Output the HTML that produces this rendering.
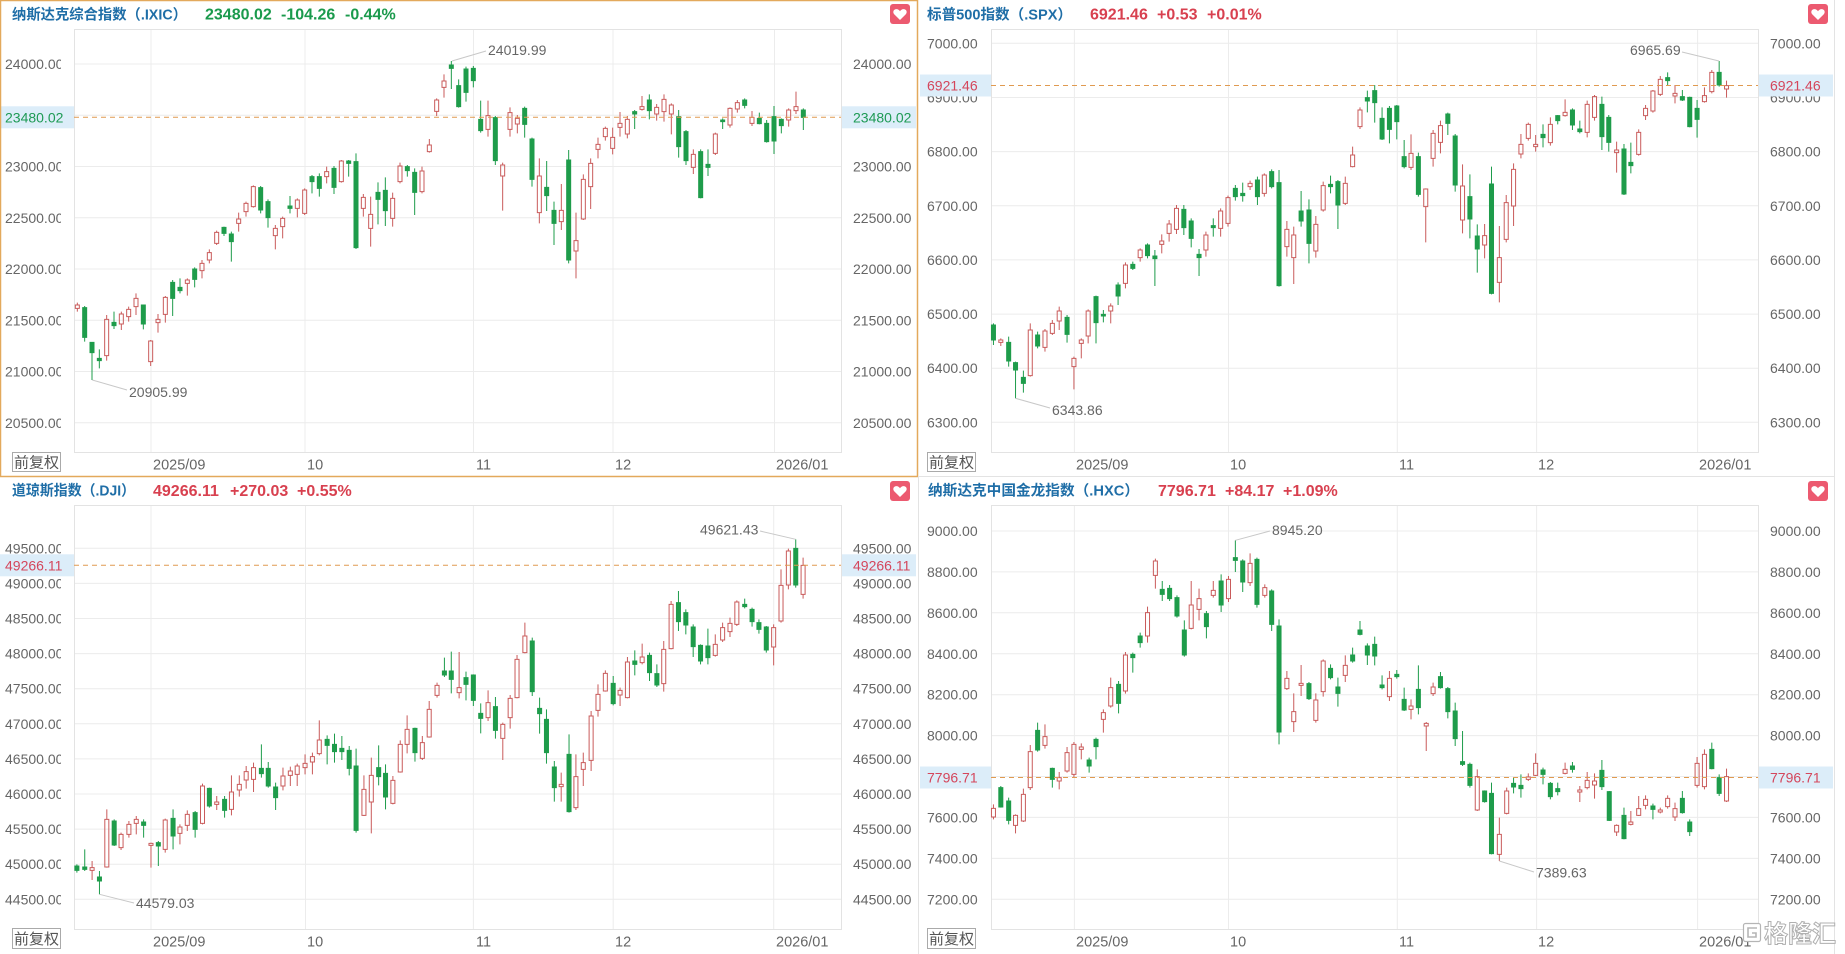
<!DOCTYPE html>
<html><head><meta charset="utf-8"><style>
html,body{margin:0;padding:0;background:#fff;width:1845px;height:954px;overflow:hidden}
svg{display:block}
.gl{stroke:#ececec;stroke-width:1;fill:none}
.bd{stroke:#e3e3e3;stroke-width:1;fill:none}
.ax{fill:#666;font-size:14px}
.xl{fill:#666;font-size:14.5px}
.ttl{fill:#1f6ea7;font-size:14.5px;font-weight:bold}
.up{fill:#d8404f;font-size:16px;font-weight:bold}
.dn{fill:#1a9a4c;font-size:16px;font-weight:bold}
.cr{fill:none;stroke:#c95b5b;stroke-width:1}
.cg{fill:#1e9c4b;stroke:#1e9c4b;stroke-width:1}
.dash{stroke:#e09a50;stroke-width:1;stroke-dasharray:5 4}
.hb{fill:#dcedf9}
.ann{fill:#666;font-size:14px}
.al{stroke:#c8c8c8;stroke-width:1}
.fq{fill:#fff;stroke:#aaa;stroke-width:1}
.fqt{fill:#555;font-size:15px}
.hv{fill:#ec5a70}
</style></head><body>
<svg width="1845" height="954" xmlns="http://www.w3.org/2000/svg" font-family="'Liberation Sans','Noto Sans CJK SC',sans-serif">
<defs>
<clipPath id="clL"><rect x="0" y="0" width="61" height="954"/></clipPath>
<symbol id="heart" viewBox="0 0 20 20"><rect width="20" height="20" rx="3" class="hv"/><path d="M10 16 L4.3 10.4 C2.6 8.6 3.2 5.9 5.5 5.3 C7.4 4.8 9 5.8 10 7.3 C11 5.8 12.6 4.8 14.5 5.3 C16.8 5.9 17.4 8.6 15.7 10.4 Z" fill="#fff"/></symbol>
</defs>

<!-- ================= PANEL TL : IXIC ================= -->
<g>
<line class="gl" x1="74" y1="64" x2="841" y2="64"/>
<line class="gl" x1="74" y1="115.3" x2="841" y2="115.3"/>
<line class="gl" x1="74" y1="166.5" x2="841" y2="166.5"/>
<line class="gl" x1="74" y1="217.8" x2="841" y2="217.8"/>
<line class="gl" x1="74" y1="269" x2="841" y2="269"/>
<line class="gl" x1="74" y1="320.3" x2="841" y2="320.3"/>
<line class="gl" x1="74" y1="371.5" x2="841" y2="371.5"/>
<line class="gl" x1="74" y1="422.8" x2="841" y2="422.8"/>
<line class="gl" x1="151" y1="29" x2="151" y2="452"/>
<line class="gl" x1="305" y1="29" x2="305" y2="452"/>
<line class="gl" x1="473.5" y1="29" x2="473.5" y2="452"/>
<line class="gl" x1="613" y1="29" x2="613" y2="452"/>
<line class="gl" x1="774.5" y1="29" x2="774.5" y2="452"/>
<rect class="bd" x="74.5" y="29.5" width="767" height="423"/>
<text class="ttl" x="12" y="19.5" textLength="175" lengthAdjust="spacingAndGlyphs">纳斯达克综合指数（.IXIC）</text>
<text class="dn" x="205" y="19.5">23480.02</text>
<text class="dn" x="281" y="19.5">-104.26</text>
<text class="dn" x="345" y="19.5">-0.44%</text>
<use href="#heart" x="890" y="4" width="20" height="20"/>
<g class="ax" clip-path="url(#clL)">
<text x="5" y="69">24000.00</text><text x="5" y="171.5">23000.00</text><text x="5" y="222.8">22500.00</text><text x="5" y="274">22000.00</text><text x="5" y="325.3">21500.00</text><text x="5" y="376.5">21000.00</text><text x="5" y="427.8">20500.00</text>
</g>
<g class="ax">
<text x="853" y="69">24000.00</text><text x="853" y="171.5">23000.00</text><text x="853" y="222.8">22500.00</text><text x="853" y="274">22000.00</text><text x="853" y="325.3">21500.00</text><text x="853" y="376.5">21000.00</text><text x="853" y="427.8">20500.00</text>
</g>
<g class="xl"><text x="153" y="469.5">2025/09</text><text x="307" y="469.5">10</text><text x="476" y="469.5">11</text><text x="615" y="469.5">12</text><text x="776" y="469.5">2026/01</text></g>
<rect class="fq" x="12.5" y="452.5" width="48" height="19"/><text class="fqt" x="14" y="467.5">前复权</text>
<g transform="translate(70 30) scale(0.333333)">
<path class="cr" vector-effect="non-scaling-stroke" d="M22 818V825M22 835V845M22 825m-6 0h12V835h-12zM110 855V868M110 977V992M110 868m-6 0h12V977h-12zM154 845V852M154 882V900M154 852m-6 0h12V882h-12zM176 830V838M176 860V875M176 838m-6 0h12V860h-12zM198 790V805M198 830V855M198 805m-6 0h12V830h-12zM242 930V933M242 995V1008M242 933m-6 0h12V995h-12zM264 852V868M264 878V908M264 868m-6 0h12V878h-12zM286 798V802M286 853V878M286 802m-6 0h12V853h-12zM352 745V750M352 760V797M352 750m-6 0h12V760h-12zM396 690V700M396 722V745M396 700m-6 0h12V722h-12zM418 658V668M418 690V700M418 668m-6 0h12V690h-12zM440 602V607M440 640V645M440 607m-6 0h12V640h-12zM506 548V567M506 580V605M506 567m-6 0h12V580h-12zM528 515V520M528 545V560M528 520m-6 0h12V545h-12zM550 466V470M550 530V533M550 470m-6 0h12V530h-12zM616 585V595M616 617V658M616 595m-6 0h12V617h-12zM638 560V565M638 590V625M638 565m-6 0h12V590h-12zM682 505V510M682 535V562M682 510m-6 0h12V535h-12zM704 475V480M704 550V555M704 480m-6 0h12V550h-12zM770 410V425M770 440V460M770 425m-6 0h12V440h-12zM814 390V393M814 455V458M814 393m-6 0h12V455h-12zM880 492V502M880 535V560M880 502m-6 0h12V535h-12zM902 500V553M902 595V650M902 553m-6 0h12V595h-12zM968 488V505M968 565V590M968 505m-6 0h12V565h-12zM990 398V408M990 455V460M990 408m-6 0h12V455h-12zM1056 410V423M1056 485V490M1056 423m-6 0h12V485h-12zM1078 327V345M1078 365V368M1078 345m-6 0h12V365h-12zM1100 205V210M1100 244V258M1100 210m-6 0h12V244h-12zM1122 133V153M1122 172V203M1122 153m-6 0h12V172h-12zM1254 212V257M1254 298V320M1254 257m-6 0h12V298h-12zM1298 398V405M1298 438V542M1298 405m-6 0h12V438h-12zM1320 232V248M1320 298V320M1320 248m-6 0h12V298h-12zM1342 255V265M1342 282V310M1342 265m-6 0h12V282h-12zM1408 385V438M1408 548V580M1408 438m-6 0h12V548h-12zM1474 462V541M1474 575V600M1474 541m-6 0h12V575h-12zM1518 548V632M1518 663V745M1518 632m-6 0h12V663h-12zM1540 433V448M1540 567V570M1540 448m-6 0h12V567h-12zM1562 385V400M1562 470V537M1562 400m-6 0h12V470h-12zM1584 323V343M1584 358V385M1584 343m-6 0h12V358h-12zM1606 290V295M1606 320V332M1606 295m-6 0h12V320h-12zM1628 293V322M1628 355V373M1628 322m-6 0h12V355h-12zM1650 246V280M1650 292V320M1650 280m-6 0h12V292h-12zM1672 258V268M1672 312V325M1672 268m-6 0h12V312h-12zM1716 198V230M1716 238V242M1716 230m-6 0h12V238h-12zM1760 222V232M1760 252V272M1760 232m-6 0h12V252h-12zM1782 193V208M1782 245V275M1782 208m-6 0h12V245h-12zM1804 220V225M1804 252V313M1804 225m-6 0h12V252h-12zM1870 358V373M1870 412V432M1870 373m-6 0h12V412h-12zM1936 308V312M1936 370V375M1936 312m-6 0h12V370h-12zM1980 232V235M1980 285V293M1980 235m-6 0h12V285h-12zM2002 210V218M2002 237V248M2002 218m-6 0h12V237h-12zM2046 243V262M2046 280V288M2046 262m-6 0h12V280h-12zM2156 235V240M2156 270V290M2156 240m-6 0h12V270h-12zM2178 185V230M2178 242V252M2178 230m-6 0h12V242h-12z"/>
<path class="cg" vector-effect="non-scaling-stroke" d="M44 828V935M44 833m-6 0h12V922h-12zM66 937V1050M66 937m-6 0h12V968h-12zM88 958V1015M88 985m-6 0h12V992h-12zM132 845V897M132 877m-6 0h12V887h-12zM220 825V898M220 825m-6 0h12V882h-12zM308 750V858M308 757m-6 0h12V805h-12zM330 745V790M330 772m-6 0h12V782h-12zM374 712V772M374 717m-6 0h12V748h-12zM462 590V618M462 592m-6 0h12V610h-12zM484 605V695M484 612m-6 0h12V635h-12zM572 468V550M572 473m-6 0h12V540h-12zM594 508V593M594 515m-6 0h12V563h-12zM660 498V550M660 528m-6 0h12V535h-12zM726 435V490M726 440m-6 0h12V455h-12zM748 430V500M748 440m-6 0h12V475h-12zM792 408V492M792 415m-6 0h12V472h-12zM836 390V440M836 393m-6 0h12V400h-12zM858 370V657M858 395m-6 0h12V653h-12zM924 457V583M924 487m-6 0h12V508h-12zM946 442V588M946 481m-6 0h12V542h-12zM1012 405V440M1012 410m-6 0h12V422h-12zM1034 415V555M1034 427m-6 0h12V487h-12zM1144 93V177M1144 105m-6 0h12V115h-12zM1166 148V233M1166 167m-6 0h12V230h-12zM1188 110V215M1188 117m-6 0h12V187h-12zM1210 108V172M1210 115m-6 0h12V152h-12zM1232 212V308M1232 268m-6 0h12V302h-12zM1276 258V405M1276 263m-6 0h12V392h-12zM1364 230V323M1364 235m-6 0h12V283h-12zM1386 323V470M1386 327m-6 0h12V448h-12zM1430 393V543M1430 472m-6 0h12V497h-12zM1452 515V645M1452 541m-6 0h12V580h-12zM1496 360V700M1496 390m-6 0h12V690h-12zM1694 240V297M1694 245m-6 0h12V252h-12zM1738 193V268M1738 210m-6 0h12V242h-12zM1826 240V383M1826 260m-6 0h12V350h-12zM1848 300V405M1848 305m-6 0h12V392h-12zM1892 358V505M1892 365m-6 0h12V503h-12zM1914 358V438M1914 403m-6 0h12V412h-12zM1958 265V297M1958 270m-6 0h12V275h-12zM2024 205V235M2024 210m-6 0h12V226h-12zM2068 248V283M2068 265m-6 0h12V281h-12zM2090 270V338M2090 280m-6 0h12V335h-12zM2112 228V372M2112 260m-6 0h12V333h-12zM2134 265V310M2134 268m-6 0h12V287h-12zM2200 235V300M2200 240m-6 0h12V262h-12z"/>
</g>
<line class="dash" x1="74" y1="117.3" x2="841" y2="117.3"/>
<rect class="hb" x="0" y="106.3" width="74" height="22"/><text x="5" y="122.3" font-size="14" fill="#1e9a55">23480.02</text>
<rect class="hb" x="842" y="106.3" width="74" height="22"/><text x="853" y="122.3" font-size="14" fill="#1e9a55">23480.02</text>
<line class="al" x1="452" y1="61" x2="486" y2="51"/><text class="ann" x="488" y="55">24019.99</text>
<line class="al" x1="92.3" y1="380" x2="127" y2="390"/><text class="ann" x="129" y="397">20905.99</text>
<rect x="0.5" y="0.5" width="917" height="476" fill="none" stroke="#e3a95c" stroke-width="1.5"/>
</g>

<!-- ================= PANEL TR : SPX ================= -->
<g>
<line class="gl" x1="991" y1="43.3" x2="1758" y2="43.3"/>
<line class="gl" x1="991" y1="97.5" x2="1758" y2="97.5"/>
<line class="gl" x1="991" y1="151.6" x2="1758" y2="151.6"/>
<line class="gl" x1="991" y1="205.8" x2="1758" y2="205.8"/>
<line class="gl" x1="991" y1="259.9" x2="1758" y2="259.9"/>
<line class="gl" x1="991" y1="314.1" x2="1758" y2="314.1"/>
<line class="gl" x1="991" y1="368.2" x2="1758" y2="368.2"/>
<line class="gl" x1="991" y1="422.3" x2="1758" y2="422.3"/>
<line class="gl" x1="1074.4" y1="29" x2="1074.4" y2="452"/>
<line class="gl" x1="1228.5" y1="29" x2="1228.5" y2="452"/>
<line class="gl" x1="1397.3" y1="29" x2="1397.3" y2="452"/>
<line class="gl" x1="1536.6" y1="29" x2="1536.6" y2="452"/>
<line class="gl" x1="1697.6" y1="29" x2="1697.6" y2="452"/>
<rect class="bd" x="991.5" y="29.5" width="767" height="423"/>
<text class="ttl" x="927" y="19.5" textLength="145" lengthAdjust="spacingAndGlyphs">标普500指数（.SPX）</text>
<text class="up" x="1090" y="19.5">6921.46</text>
<text class="up" x="1157" y="19.5">+0.53</text>
<text class="up" x="1207" y="19.5">+0.01%</text>
<use href="#heart" x="1808" y="4" width="20" height="20"/>
<g class="ax">
<text x="927" y="48.3">7000.00</text><text x="927" y="102.5">6900.00</text><text x="927" y="156.6">6800.00</text><text x="927" y="210.8">6700.00</text><text x="927" y="264.9">6600.00</text><text x="927" y="319.1">6500.00</text><text x="927" y="373.2">6400.00</text><text x="927" y="427.3">6300.00</text>
<text x="1770" y="48.3">7000.00</text><text x="1770" y="102.5">6900.00</text><text x="1770" y="156.6">6800.00</text><text x="1770" y="210.8">6700.00</text><text x="1770" y="264.9">6600.00</text><text x="1770" y="319.1">6500.00</text><text x="1770" y="373.2">6400.00</text><text x="1770" y="427.3">6300.00</text>
</g>
<g class="xl"><text x="1076" y="469.5">2025/09</text><text x="1230" y="469.5">10</text><text x="1399" y="469.5">11</text><text x="1538" y="469.5">12</text><text x="1699" y="469.5">2026/01</text></g>
<rect class="fq" x="927.5" y="452.5" width="48" height="19"/><text class="fqt" x="929" y="467.5">前复权</text>
<g transform="translate(991 30) scale(0.49068 0.333333)">
<path class="cr" vector-effect="non-scaling-stroke" d="M20 925V930M20 937V948M20 930m-4.1 0h8.2V937h-8.2zM80 880V900M80 1037V1040M80 900m-4.1 0h8.2V1037h-8.2zM110 897V903M110 952V965M110 903m-4.1 0h8.2V952h-8.2zM125 870V880M125 910V915M125 880m-4.1 0h8.2V910h-8.2zM139 830V843M139 873V900M139 843m-4.1 0h8.2V873h-8.2zM169 980V985M169 1010V1078M169 985m-4.1 0h8.2V1010h-8.2zM184 925V930M184 940V985M184 930m-4.1 0h8.2V940h-8.2zM198 838V843M198 918V940M198 843m-4.1 0h8.2V918h-8.2zM244 820V828M244 843V880M244 828m-4.1 0h8.2V843h-8.2zM274 697V705M274 760V775M274 705m-4.1 0h8.2V760h-8.2zM304 655V660M304 683V695M304 660m-4.1 0h8.2V683h-8.2zM348 613V633M348 643V670M348 633m-4.1 0h8.2V643h-8.2zM363 570V582M363 610V635M363 582m-4.1 0h8.2V610h-8.2zM378 525V535M378 598V612M378 535m-4.1 0h8.2V598h-8.2zM438 605V615M438 660V680M438 615m-4.1 0h8.2V660h-8.2zM468 535V543M468 595V620M468 543m-4.1 0h8.2V595h-8.2zM483 497V503M483 580V590M483 503m-4.1 0h8.2V580h-8.2zM528 452V460M528 470V480M528 460m-4.1 0h8.2V470h-8.2zM557 430V435M557 490V500M557 435m-4.1 0h8.2V490h-8.2zM603 573V598M603 650V680M603 598m-4.1 0h8.2V650h-8.2zM617 590V615M617 683V762M617 615m-4.1 0h8.2V683h-8.2zM662 558V583M662 663V683M662 583m-4.1 0h8.2V663h-8.2zM677 455V467M677 540V545M677 467m-4.1 0h8.2V540h-8.2zM722 440V460M722 520V525M722 460m-4.1 0h8.2V520h-8.2zM737 350V375M737 410V412M737 375m-4.1 0h8.2V410h-8.2zM752 232V240M752 290V297M752 240m-4.1 0h8.2V290h-8.2zM856 313V370M856 412V420M856 370m-4.1 0h8.2V412h-8.2zM886 475V477M886 530V637M886 477m-4.1 0h8.2V530h-8.2zM901 300V310M901 385V410M901 310m-4.1 0h8.2V385h-8.2zM916 272V287M916 337V370M916 287m-4.1 0h8.2V337h-8.2zM961 403V468M961 570V610M961 468m-4.1 0h8.2V570h-8.2zM1006 582V617M1006 645V685M1006 617m-4.1 0h8.2V645h-8.2zM1036 588V683M1036 757V817M1036 683m-4.1 0h8.2V757h-8.2zM1050 495V518M1050 628V637M1050 518m-4.1 0h8.2V628h-8.2zM1065 400V418M1065 528V588M1065 418m-4.1 0h8.2V528h-8.2zM1080 312V343M1080 372V385M1080 343m-4.1 0h8.2V372h-8.2zM1095 278V283M1095 325V332M1095 283m-4.1 0h8.2V325h-8.2zM1110 315V343M1110 350V365M1110 343m-4.1 0h8.2V350h-8.2zM1140 262V283M1140 338V347M1140 283m-4.1 0h8.2V338h-8.2zM1170 208V247M1170 257V260M1170 247m-4.1 0h8.2V257h-8.2zM1215 212V223M1215 307V322M1215 223m-4.1 0h8.2V307h-8.2zM1230 195V200M1230 262V272M1230 200m-4.1 0h8.2V262h-8.2zM1275 335V360M1275 368V428M1275 360m-4.1 0h8.2V368h-8.2zM1320 298V307M1320 373V377M1320 307m-4.1 0h8.2V373h-8.2zM1334 225V235M1334 257V270M1334 235m-4.1 0h8.2V257h-8.2zM1349 180V183M1349 243V248M1349 183m-4.1 0h8.2V243h-8.2zM1364 138V148M1364 193V198M1364 148m-4.1 0h8.2V193h-8.2zM1394 165V190M1394 198V220M1394 190m-4.1 0h8.2V198h-8.2zM1454 172V197M1454 215V218M1454 197m-4.1 0h8.2V215h-8.2zM1469 120V127M1469 185V190M1469 127m-4.1 0h8.2V185h-8.2zM1499 152V167M1499 177V203M1499 167m-4.1 0h8.2V177h-8.2z"/>
<path class="cg" vector-effect="non-scaling-stroke" d="M5 880V945M5 885m-4.1 0h8.2V930h-8.2zM36 920V1010M36 937m-4.1 0h8.2V993h-8.2zM50 995V1105M50 998m-4.1 0h8.2V1020h-8.2zM66 1022V1088M66 1042m-4.1 0h8.2V1060h-8.2zM95 905V955M95 915m-4.1 0h8.2V948h-8.2zM155 855V938M155 862m-4.1 0h8.2V913h-8.2zM214 797V940M214 800m-4.1 0h8.2V878h-8.2zM229 840V877M229 853m-4.1 0h8.2V858h-8.2zM259 757V825M259 765m-4.1 0h8.2V798h-8.2zM289 695V720M289 703m-4.1 0h8.2V715h-8.2zM319 640V685M319 645m-4.1 0h8.2V677h-8.2zM334 660V768M334 678m-4.1 0h8.2V686h-8.2zM393 525V615M393 538m-4.1 0h8.2V593h-8.2zM408 565V652M408 573m-4.1 0h8.2V625h-8.2zM424 657V738M424 673m-4.1 0h8.2V683h-8.2zM453 565V620M453 587m-4.1 0h8.2V593h-8.2zM498 465V512M498 475m-4.1 0h8.2V500h-8.2zM513 458V515M513 490m-4.1 0h8.2V497h-8.2zM543 440V525M543 450m-4.1 0h8.2V500h-8.2zM572 418V475M572 425m-4.1 0h8.2V470h-8.2zM587 420V770M587 458m-4.1 0h8.2V767h-8.2zM632 483V590M632 543m-4.1 0h8.2V573h-8.2zM648 508V700M648 540m-4.1 0h8.2V640h-8.2zM692 437V490M692 463m-4.1 0h8.2V470h-8.2zM707 450V597M707 455m-4.1 0h8.2V525h-8.2zM767 182V247M767 203m-4.1 0h8.2V213h-8.2zM782 165V278M782 182m-4.1 0h8.2V218h-8.2zM797 232V330M797 265m-4.1 0h8.2V327h-8.2zM812 228V340M812 235m-4.1 0h8.2V298h-8.2zM827 225V328M827 228m-4.1 0h8.2V275h-8.2zM842 330V415M842 380m-4.1 0h8.2V410h-8.2zM871 368V500M871 380m-4.1 0h8.2V493h-8.2zM931 248V315M931 252m-4.1 0h8.2V280h-8.2zM946 312V485M946 318m-4.1 0h8.2V465h-8.2zM976 433V625M976 500m-4.1 0h8.2V567h-8.2zM991 583V728M991 618m-4.1 0h8.2V657h-8.2zM1020 410V793M1020 462m-4.1 0h8.2V790h-8.2zM1125 283V352M1125 313m-4.1 0h8.2V323h-8.2zM1155 255V283M1155 257m-4.1 0h8.2V272h-8.2zM1185 235V300M1185 240m-4.1 0h8.2V285h-8.2zM1200 272V310M1200 297m-4.1 0h8.2V305h-8.2zM1245 200V360M1245 223m-4.1 0h8.2V320h-8.2zM1259 255V365M1259 262m-4.1 0h8.2V337h-8.2zM1290 342V495M1290 357m-4.1 0h8.2V492h-8.2zM1304 338V430M1304 397m-4.1 0h8.2V407h-8.2zM1379 127V165M1379 143m-4.1 0h8.2V152h-8.2zM1409 180V213M1409 200m-4.1 0h8.2V210h-8.2zM1424 200V292M1424 202m-4.1 0h8.2V290h-8.2zM1439 210V323M1439 235m-4.1 0h8.2V268h-8.2zM1484 93V170M1484 127m-4.1 0h8.2V165h-8.2z"/>
</g>
<line class="dash" x1="991" y1="85.5" x2="1758" y2="85.5"/>
<rect class="hb" x="920" y="74.5" width="71" height="22"/><text x="927" y="90.5" font-size="14" fill="#d4465c">6921.46</text>
<rect class="hb" x="1759" y="74.5" width="74" height="22"/><text x="1770" y="90.5" font-size="14" fill="#d4465c">6921.46</text>
<line class="al" x1="1682" y1="52" x2="1719" y2="61"/><text class="ann" x="1630" y="55">6965.69</text>
<line class="al" x1="1015.5" y1="398.3" x2="1050" y2="408"/><text class="ann" x="1052" y="415">6343.86</text>
<line x1="918" y1="476.5" x2="1834" y2="476.5" stroke="#e3e3e3"/>
<line x1="1834.5" y1="0" x2="1834.5" y2="954" stroke="#e3e3e3"/>
</g>

<!-- ================= PANEL BL : DJI ================= -->
<g>
<line class="gl" x1="74" y1="548.3" x2="841" y2="548.3"/>
<line class="gl" x1="74" y1="583.4" x2="841" y2="583.4"/>
<line class="gl" x1="74" y1="618.5" x2="841" y2="618.5"/>
<line class="gl" x1="74" y1="653.6" x2="841" y2="653.6"/>
<line class="gl" x1="74" y1="688.7" x2="841" y2="688.7"/>
<line class="gl" x1="74" y1="723.8" x2="841" y2="723.8"/>
<line class="gl" x1="74" y1="758.9" x2="841" y2="758.9"/>
<line class="gl" x1="74" y1="794" x2="841" y2="794"/>
<line class="gl" x1="74" y1="829.1" x2="841" y2="829.1"/>
<line class="gl" x1="74" y1="864.2" x2="841" y2="864.2"/>
<line class="gl" x1="74" y1="899.3" x2="841" y2="899.3"/>
<line class="gl" x1="151" y1="505" x2="151" y2="929"/>
<line class="gl" x1="305.5" y1="505" x2="305.5" y2="929"/>
<line class="gl" x1="473.4" y1="505" x2="473.4" y2="929"/>
<line class="gl" x1="613.2" y1="505" x2="613.2" y2="929"/>
<line class="gl" x1="773.7" y1="505" x2="773.7" y2="929"/>
<rect class="bd" x="74.5" y="505.5" width="767" height="424"/>
<text class="ttl" x="12" y="495.5" textLength="123" lengthAdjust="spacingAndGlyphs">道琼斯指数（.DJI）</text>
<text class="up" x="153" y="496">49266.11</text>
<text class="up" x="230" y="496">+270.03</text>
<text class="up" x="297" y="496">+0.55%</text>
<use href="#heart" x="890" y="481" width="20" height="20"/>
<g class="ax" clip-path="url(#clL)">
<text x="5" y="553.3">49500.00</text><text x="5" y="588.4">49000.00</text><text x="5" y="623.5">48500.00</text><text x="5" y="658.6">48000.00</text><text x="5" y="693.7">47500.00</text><text x="5" y="728.8">47000.00</text><text x="5" y="763.9">46500.00</text><text x="5" y="799">46000.00</text><text x="5" y="834.1">45500.00</text><text x="5" y="869.2">45000.00</text><text x="5" y="904.3">44500.00</text>
</g>
<g class="ax">
<text x="853" y="553.3">49500.00</text><text x="853" y="588.4">49000.00</text><text x="853" y="623.5">48500.00</text><text x="853" y="658.6">48000.00</text><text x="853" y="693.7">47500.00</text><text x="853" y="728.8">47000.00</text><text x="853" y="763.9">46500.00</text><text x="853" y="799">46000.00</text><text x="853" y="834.1">45500.00</text><text x="853" y="869.2">45000.00</text><text x="853" y="904.3">44500.00</text>
</g>
<g class="xl"><text x="153" y="946.5">2025/09</text><text x="307" y="946.5">10</text><text x="476" y="946.5">11</text><text x="615" y="946.5">12</text><text x="776" y="946.5">2026/01</text></g>
<rect class="fq" x="12.5" y="928.5" width="48" height="20"/><text class="fqt" x="14" y="944">前复权</text>
<g transform="translate(71 506) scale(0.49068 0.333333)">
<path class="cr" vector-effect="non-scaling-stroke" d="M43 1065V1085M43 1093V1122M43 1085m-4.1 0h8.2V1093h-8.2zM73 910V940M73 1083V1085M73 940m-4.1 0h8.2V1083h-8.2zM102 980V985M102 1025V1032M102 985m-4.1 0h8.2V1025h-8.2zM118 945V955M118 985V995M118 955m-4.1 0h8.2V985h-8.2zM133 930V940M133 952V985M133 940m-4.1 0h8.2V952h-8.2zM163 1010V1012M163 1018V1085M163 1012m-4.1 0h8.2V1018h-8.2zM192 938V942M192 1030V1040M192 942m-4.1 0h8.2V1030h-8.2zM222 955V963M222 982V1015M222 963m-4.1 0h8.2V982h-8.2zM237 913V925M237 958V975M237 925m-4.1 0h8.2V958h-8.2zM268 833V840M268 952V955M268 840m-4.1 0h8.2V952h-8.2zM297 870V888M297 895V912M297 888m-4.1 0h8.2V895h-8.2zM327 808V858M327 910V928M327 858m-4.1 0h8.2V910h-8.2zM343 808V835M343 852V872M343 835m-4.1 0h8.2V852h-8.2zM357 780V797M357 822V848M357 797m-4.1 0h8.2V822h-8.2zM372 770V785M372 820V858M372 785m-4.1 0h8.2V820h-8.2zM432 785V810M432 840V853M432 810m-4.1 0h8.2V840h-8.2zM447 782V795M447 808V840M447 795m-4.1 0h8.2V808h-8.2zM461 773V780M461 805V840M461 780m-4.1 0h8.2V805h-8.2zM477 745V772M477 785V805M477 772m-4.1 0h8.2V785h-8.2zM492 740V752M492 768V805M492 752m-4.1 0h8.2V768h-8.2zM506 643V702M506 743V748M506 702m-4.1 0h8.2V743h-8.2zM597 808V850M597 928V930M597 850m-4.1 0h8.2V928h-8.2zM612 755V808M612 888V982M612 808m-4.1 0h8.2V888h-8.2zM656 810V823M656 892V895M656 823m-4.1 0h8.2V892h-8.2zM671 703V715M671 798V800M671 715m-4.1 0h8.2V798h-8.2zM685 628V670M685 715V742M685 670m-4.1 0h8.2V715h-8.2zM716 690V710M716 757V762M716 710m-4.1 0h8.2V757h-8.2zM730 585V610M730 693V695M730 610m-4.1 0h8.2V693h-8.2zM746 530V538M746 568V575M746 538m-4.1 0h8.2V568h-8.2zM791 438V545M791 560V577M791 545m-4.1 0h8.2V560h-8.2zM850 553V590M850 635V645M850 590m-4.1 0h8.2V635h-8.2zM880 650V655M880 697V762M880 655m-4.1 0h8.2V697h-8.2zM895 567V577M895 635V668M895 577m-4.1 0h8.2V635h-8.2zM909 447V460M909 575V577M909 460m-4.1 0h8.2V575h-8.2zM925 350V390M925 440V442M925 390m-4.1 0h8.2V440h-8.2zM999 800V835M999 842V887M999 835m-4.1 0h8.2V842h-8.2zM1029 745V812M1029 905V912M1029 812m-4.1 0h8.2V905h-8.2zM1044 740V770M1044 790V840M1044 770m-4.1 0h8.2V790h-8.2zM1060 615V630M1060 763V795M1060 630m-4.1 0h8.2V763h-8.2zM1074 535V565M1074 613V632M1074 565m-4.1 0h8.2V613h-8.2zM1089 493V502M1089 555V557M1089 502m-4.1 0h8.2V555h-8.2zM1119 545V553M1119 567V600M1119 553m-4.1 0h8.2V567h-8.2zM1134 453V468M1134 575V577M1134 468m-4.1 0h8.2V575h-8.2zM1164 413V453M1164 470V475M1164 453m-4.1 0h8.2V470h-8.2zM1208 405V430M1208 533V557M1208 430m-4.1 0h8.2V533h-8.2zM1223 285V295M1223 428V430M1223 295m-4.1 0h8.2V428h-8.2zM1313 385V415M1313 448V452M1313 415m-4.1 0h8.2V448h-8.2zM1328 350V365M1328 402V408M1328 365m-4.1 0h8.2V402h-8.2zM1343 335V352M1343 377V393M1343 352m-4.1 0h8.2V377h-8.2zM1357 283V288M1357 355V360M1357 288m-4.1 0h8.2V355h-8.2zM1432 355V365M1432 423V478M1432 365m-4.1 0h8.2V423h-8.2zM1447 190V238M1447 345V350M1447 238m-4.1 0h8.2V345h-8.2zM1462 128V135M1462 237V250M1462 135m-4.1 0h8.2V237h-8.2zM1492 155V178M1492 265V278M1492 178m-4.1 0h8.2V265h-8.2z"/>
<path class="cg" vector-effect="non-scaling-stroke" d="M12 1075V1100M12 1080m-4.1 0h8.2V1093h-8.2zM28 1030V1095M28 1083m-4.1 0h8.2V1090h-8.2zM58 1095V1165M58 1113m-4.1 0h8.2V1125h-8.2zM88 940V1020M88 945m-4.1 0h8.2V1017h-8.2zM148 940V995M148 948m-4.1 0h8.2V958h-8.2zM178 1005V1080M178 1010m-4.1 0h8.2V1020h-8.2zM208 910V1030M208 937m-4.1 0h8.2V990h-8.2zM253 915V995M253 920m-4.1 0h8.2V970h-8.2zM282 845V905M282 847m-4.1 0h8.2V900h-8.2zM313 870V935M313 880m-4.1 0h8.2V913h-8.2zM388 715V815M388 787m-4.1 0h8.2V803h-8.2zM402 768V845M402 787m-4.1 0h8.2V840h-8.2zM417 830V912M417 843m-4.1 0h8.2V875h-8.2zM522 688V775M522 700m-4.1 0h8.2V718h-8.2zM537 683V770M537 715m-4.1 0h8.2V737h-8.2zM552 690V762M552 727m-4.1 0h8.2V737h-8.2zM567 720V808M567 733m-4.1 0h8.2V787h-8.2zM581 728V980M581 780m-4.1 0h8.2V973h-8.2zM627 718V838M627 785m-4.1 0h8.2V812h-8.2zM641 775V910M641 802m-4.1 0h8.2V873h-8.2zM701 665V767M701 667m-4.1 0h8.2V740h-8.2zM761 455V513M761 495m-4.1 0h8.2V507h-8.2zM775 437V562M775 495m-4.1 0h8.2V520h-8.2zM805 497V583M805 515m-4.1 0h8.2V535h-8.2zM820 505V600M820 507m-4.1 0h8.2V583h-8.2zM835 592V682M835 622m-4.1 0h8.2V637h-8.2zM865 573V698M865 602m-4.1 0h8.2V673h-8.2zM940 395V570M940 405m-4.1 0h8.2V557h-8.2zM955 575V683M955 607m-4.1 0h8.2V623h-8.2zM969 610V773M969 640m-4.1 0h8.2V740h-8.2zM985 765V887M985 783m-4.1 0h8.2V845h-8.2zM1015 685V920M1015 745m-4.1 0h8.2V917h-8.2zM1105 510V598M1105 532m-4.1 0h8.2V593h-8.2zM1149 433V508M1149 465m-4.1 0h8.2V475h-8.2zM1179 440V525M1179 448m-4.1 0h8.2V500h-8.2zM1194 475V543M1194 503m-4.1 0h8.2V537h-8.2zM1238 255V375M1238 290m-4.1 0h8.2V347h-8.2zM1253 310V385M1253 320m-4.1 0h8.2V357h-8.2zM1268 355V453M1268 363m-4.1 0h8.2V422h-8.2zM1283 415V475M1283 418m-4.1 0h8.2V465h-8.2zM1298 368V475M1298 420m-4.1 0h8.2V455h-8.2zM1373 278V307M1373 295m-4.1 0h8.2V302h-8.2zM1388 305V362M1388 310m-4.1 0h8.2V347h-8.2zM1402 340V383M1402 350m-4.1 0h8.2V370h-8.2zM1417 360V440M1417 363m-4.1 0h8.2V432h-8.2zM1477 100V245M1477 127m-4.1 0h8.2V237h-8.2z"/>
</g>
<line class="dash" x1="74" y1="565.3" x2="841" y2="565.3"/>
<rect class="hb" x="0" y="554.3" width="74" height="22"/><text x="5" y="570.3" font-size="14" fill="#d4465c">49266.11</text>
<rect class="hb" x="842" y="554.3" width="74" height="22"/><text x="853" y="570.3" font-size="14" fill="#d4465c">49266.11</text>
<line class="al" x1="760" y1="531" x2="795.7" y2="539.3"/><text class="ann" x="700" y="534.3">49621.43</text>
<line class="al" x1="99.5" y1="894.3" x2="134" y2="903"/><text class="ann" x="136" y="908">44579.03</text>
<line x1="918.5" y1="477" x2="918.5" y2="954" stroke="#e3e3e3"/>
</g>

<!-- ================= PANEL BR : HXC ================= -->
<g>
<line class="gl" x1="991" y1="531" x2="1758" y2="531"/>
<line class="gl" x1="991" y1="571.9" x2="1758" y2="571.9"/>
<line class="gl" x1="991" y1="612.8" x2="1758" y2="612.8"/>
<line class="gl" x1="991" y1="653.8" x2="1758" y2="653.8"/>
<line class="gl" x1="991" y1="694.7" x2="1758" y2="694.7"/>
<line class="gl" x1="991" y1="735.6" x2="1758" y2="735.6"/>
<line class="gl" x1="991" y1="776.5" x2="1758" y2="776.5"/>
<line class="gl" x1="991" y1="817.4" x2="1758" y2="817.4"/>
<line class="gl" x1="991" y1="858.4" x2="1758" y2="858.4"/>
<line class="gl" x1="991" y1="899.3" x2="1758" y2="899.3"/>
<line class="gl" x1="1074.4" y1="505" x2="1074.4" y2="929"/>
<line class="gl" x1="1228.5" y1="505" x2="1228.5" y2="929"/>
<line class="gl" x1="1397.3" y1="505" x2="1397.3" y2="929"/>
<line class="gl" x1="1536.6" y1="505" x2="1536.6" y2="929"/>
<line class="gl" x1="1697.6" y1="505" x2="1697.6" y2="929"/>
<rect class="bd" x="991.5" y="505.5" width="767" height="424"/>
<text class="ttl" x="928" y="495.5" textLength="211" lengthAdjust="spacingAndGlyphs">纳斯达克中国金龙指数（.HXC）</text>
<text class="up" x="1158" y="496">7796.71</text>
<text class="up" x="1225" y="496">+84.17</text>
<text class="up" x="1283" y="496">+1.09%</text>
<use href="#heart" x="1808" y="481" width="20" height="20"/>
<g class="ax">
<text x="927" y="536">9000.00</text><text x="927" y="576.9">8800.00</text><text x="927" y="617.8">8600.00</text><text x="927" y="658.8">8400.00</text><text x="927" y="699.7">8200.00</text><text x="927" y="740.6">8000.00</text><text x="927" y="822.4">7600.00</text><text x="927" y="863.4">7400.00</text><text x="927" y="904.3">7200.00</text>
<text x="1770" y="536">9000.00</text><text x="1770" y="576.9">8800.00</text><text x="1770" y="617.8">8600.00</text><text x="1770" y="658.8">8400.00</text><text x="1770" y="699.7">8200.00</text><text x="1770" y="740.6">8000.00</text><text x="1770" y="822.4">7600.00</text><text x="1770" y="863.4">7400.00</text><text x="1770" y="904.3">7200.00</text>
</g>
<g class="xl"><text x="1076" y="946.5">2025/09</text><text x="1230" y="946.5">10</text><text x="1399" y="946.5">11</text><text x="1538" y="946.5">12</text><text x="1699" y="946.5">2026/01</text></g>
<rect class="fq" x="927.5" y="928.5" width="48" height="20"/><text class="fqt" x="929" y="944">前复权</text>
<g transform="translate(991 506) scale(0.49068 0.333333)">
<path class="cr" vector-effect="non-scaling-stroke" d="M5 895V907M5 933V940M5 907m-4.1 0h8.2V933h-8.2zM50 925V928M50 958V982M50 928m-4.1 0h8.2V958h-8.2zM66 848V865M66 945V948M66 865m-4.1 0h8.2V945h-8.2zM80 717V737M80 845V852M80 737m-4.1 0h8.2V845h-8.2zM110 655V692M110 718V728M110 692m-4.1 0h8.2V718h-8.2zM139 798V815M139 825V850M139 815m-4.1 0h8.2V825h-8.2zM155 723V740M155 795V800M155 740m-4.1 0h8.2V795h-8.2zM169 708V715M169 805V815M169 715m-4.1 0h8.2V805h-8.2zM184 712V723M184 730V760M184 723m-4.1 0h8.2V730h-8.2zM229 610V620M229 640V680M229 620m-4.1 0h8.2V640h-8.2zM244 515V545M244 600V605M244 545m-4.1 0h8.2V600h-8.2zM274 438V447M274 555V563M274 447m-4.1 0h8.2V555h-8.2zM319 302V320M319 390V410M319 320m-4.1 0h8.2V390h-8.2zM335 158V165M335 208V248M335 165m-4.1 0h8.2V208h-8.2zM408 225V297M408 367V370M408 297m-4.1 0h8.2V367h-8.2zM424 248V278M424 310V343M424 278m-4.1 0h8.2V310h-8.2zM453 225V253M453 268V275M453 253m-4.1 0h8.2V268h-8.2zM484 210V220M484 278V288M484 220m-4.1 0h8.2V278h-8.2zM528 142V172M528 230V240M528 172m-4.1 0h8.2V230h-8.2zM558 235V245M558 268V275M558 245m-4.1 0h8.2V268h-8.2zM603 495V517M603 548V552M603 517m-4.1 0h8.2V548h-8.2zM617 562V617M617 647V678M617 617m-4.1 0h8.2V647h-8.2zM632 477V532M632 538V570M632 532m-4.1 0h8.2V538h-8.2zM662 562V582M662 643V650M662 582m-4.1 0h8.2V643h-8.2zM677 460V465M677 557V572M677 465m-4.1 0h8.2V557h-8.2zM722 448V478M722 508V528M722 478m-4.1 0h8.2V508h-8.2zM812 495V517M812 572V585M812 517m-4.1 0h8.2V572h-8.2zM856 580V600M856 610V640M856 600m-4.1 0h8.2V610h-8.2zM887 648V652M887 660V735M887 652m-4.1 0h8.2V660h-8.2zM901 530V543M901 563V570M901 543m-4.1 0h8.2V563h-8.2zM991 790V812M991 912V915M991 812m-4.1 0h8.2V912h-8.2zM1036 935V985M1036 1045V1065M1036 985m-4.1 0h8.2V1045h-8.2zM1051 845V855M1051 922V925M1051 855m-4.1 0h8.2V922h-8.2zM1095 802V813M1095 820V825M1095 813m-4.1 0h8.2V820h-8.2zM1110 742V772M1110 808V810M1110 772m-4.1 0h8.2V808h-8.2zM1170 770V790M1170 802V805M1170 790m-4.1 0h8.2V802h-8.2zM1200 840V852M1200 858V888M1200 852m-4.1 0h8.2V858h-8.2zM1215 798V823M1215 845V850M1215 823m-4.1 0h8.2V845h-8.2zM1230 802V825M1230 837V878M1230 825m-4.1 0h8.2V837h-8.2zM1275 955V958M1275 978V990M1275 958m-4.1 0h8.2V978h-8.2zM1304 915V948M1304 955V958M1304 948m-4.1 0h8.2V955h-8.2zM1320 870V908M1320 928V930M1320 908m-4.1 0h8.2V928h-8.2zM1334 868V880M1334 898V910M1334 880m-4.1 0h8.2V898h-8.2zM1364 905V912M1364 918V922M1364 912m-4.1 0h8.2V918h-8.2zM1379 868V877M1379 902V908M1379 877m-4.1 0h8.2V902h-8.2zM1394 890V908M1394 933V945M1394 908m-4.1 0h8.2V933h-8.2zM1439 753V772M1439 838V845M1439 772m-4.1 0h8.2V838h-8.2zM1454 730V745M1454 842V850M1454 745m-4.1 0h8.2V842h-8.2zM1499 788V812M1499 885V888M1499 812m-4.1 0h8.2V885h-8.2z"/>
<path class="cg" vector-effect="non-scaling-stroke" d="M20 840V905M20 845m-4.1 0h8.2V903h-8.2zM36 875V955M36 885m-4.1 0h8.2V943h-8.2zM95 650V737M95 673m-4.1 0h8.2V732h-8.2zM125 785V845M125 787m-4.1 0h8.2V820h-8.2zM200 755V800M200 762m-4.1 0h8.2V780h-8.2zM214 695V760M214 700m-4.1 0h8.2V722h-8.2zM260 525V622M260 535m-4.1 0h8.2V592h-8.2zM289 440V500M289 445m-4.1 0h8.2V455h-8.2zM304 380V425M304 390m-4.1 0h8.2V410h-8.2zM349 225V285M349 250m-4.1 0h8.2V265h-8.2zM364 237V285M364 247m-4.1 0h8.2V278h-8.2zM379 268V335M379 275m-4.1 0h8.2V330h-8.2zM394 343V452M394 372m-4.1 0h8.2V447h-8.2zM439 315V397M439 323m-4.1 0h8.2V362h-8.2zM469 205V318M469 225m-4.1 0h8.2V297h-8.2zM498 103V198M498 155m-4.1 0h8.2V163h-8.2zM513 160V258M513 165m-4.1 0h8.2V228h-8.2zM542 155V305M542 160m-4.1 0h8.2V295h-8.2zM572 250V375M572 255m-4.1 0h8.2V355h-8.2zM587 340V715M587 360m-4.1 0h8.2V678h-8.2zM648 528V582M648 533m-4.1 0h8.2V578h-8.2zM692 475V520M692 487m-4.1 0h8.2V515h-8.2zM707 515V602M707 543m-4.1 0h8.2V562h-8.2zM737 425V470M737 447m-4.1 0h8.2V465h-8.2zM752 345V388M752 372m-4.1 0h8.2V385h-8.2zM767 412V477M767 420m-4.1 0h8.2V447h-8.2zM782 392V478M782 415m-4.1 0h8.2V450h-8.2zM797 508V550M797 537m-4.1 0h8.2V545h-8.2zM827 492V518M827 505m-4.1 0h8.2V512h-8.2zM842 545V615M842 580m-4.1 0h8.2V612h-8.2zM871 478V625M871 550m-4.1 0h8.2V605h-8.2zM916 498V548M916 512m-4.1 0h8.2V545h-8.2zM931 543V637M931 548m-4.1 0h8.2V617h-8.2zM946 590V720M946 615m-4.1 0h8.2V698h-8.2zM961 675V780M961 767m-4.1 0h8.2V775h-8.2zM976 770V845M976 775m-4.1 0h8.2V838h-8.2zM1006 853V890M1006 855m-4.1 0h8.2V887h-8.2zM1020 830V1045M1020 862m-4.1 0h8.2V1043h-8.2zM1065 815V862M1065 832m-4.1 0h8.2V843h-8.2zM1080 805V875M1080 838m-4.1 0h8.2V848h-8.2zM1125 785V835M1125 792m-4.1 0h8.2V805h-8.2zM1140 828V880M1140 832m-4.1 0h8.2V872h-8.2zM1155 830V868M1155 848m-4.1 0h8.2V857h-8.2zM1185 768V800M1185 780m-4.1 0h8.2V790h-8.2zM1245 762V852M1245 793m-4.1 0h8.2V842h-8.2zM1260 855V945M1260 857m-4.1 0h8.2V943h-8.2zM1290 905V1000M1290 928m-4.1 0h8.2V998h-8.2zM1349 893V940M1349 900m-4.1 0h8.2V910h-8.2zM1409 855V923M1409 877m-4.1 0h8.2V920h-8.2zM1424 940V990M1424 948m-4.1 0h8.2V977h-8.2zM1469 710V790M1469 730m-4.1 0h8.2V788h-8.2zM1484 805V870M1484 815m-4.1 0h8.2V862h-8.2z"/>
</g>
<line class="dash" x1="991" y1="777.5" x2="1758" y2="777.5"/>
<rect class="hb" x="920" y="766.5" width="71" height="22"/><text x="927" y="782.5" font-size="14" fill="#d4465c">7796.71</text>
<rect class="hb" x="1759" y="766.5" width="74" height="22"/><text x="1770" y="782.5" font-size="14" fill="#d4465c">7796.71</text>
<line class="al" x1="1235.4" y1="540.3" x2="1270" y2="531"/><text class="ann" x="1272" y="535">8945.20</text>
<line class="al" x1="1499.3" y1="861" x2="1534" y2="872"/><text class="ann" x="1536" y="877.7">7389.63</text>
</g>

<!-- watermark -->
<g>
<rect x="1743.5" y="923.5" width="17" height="18" rx="2" fill="#fff" stroke="#b5b5b5" stroke-width="1.2"/>
<path d="M1757 928 H1748 V937 H1756 V933 H1752" fill="none" stroke="#b5b5b5" stroke-width="1.6"/>
<text x="1764" y="942" font-size="24" font-weight="bold" fill="#fff" stroke="#b0b0b0" stroke-width="1" font-family="'Noto Sans CJK SC',sans-serif">格隆汇</text>
</g>
</svg>
</body></html>
